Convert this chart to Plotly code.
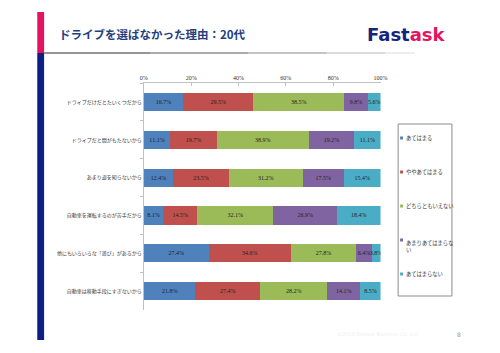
import plotly.graph_objects as go

# ---- data ----
categories = [
    "ドライブだけだとたいくつだから",
    "ドライブだと間がもたないから",
    "あまり道を知らないから",
    "自動車を運転するのが苦手だから",
    "他にもいろいろな「遊び」があるから",
    "自動車は移動手段にすぎないから",
]
series_names = ["あてはまる", "ややあてはまる", "どちらともいえない", "あまりあてはまらない", "あてはまらない"]
v_atehamaru = [16.7, 11.1, 12.4, 8.1, 27.4, 21.8]
v_yaya = [29.5, 19.7, 23.5, 14.5, 34.6, 27.4]
v_dochira = [38.5, 38.9, 31.2, 32.1, 27.8, 28.2]
v_amari = [9.8, 19.2, 17.5, 26.9, 6.4, 14.1]
v_nai = [5.6, 11.1, 15.4, 18.4, 3.8, 8.5]
series_values = [v_atehamaru, v_yaya, v_dochira, v_amari, v_nai]
tick_vals = [0, 20, 40, 60, 80, 100]
tick_text = ["0%", "20%", "40%", "60%", "80%", "100%"]

colors = ["#4F81BD", "#C0504D", "#9BBB59", "#8064A2", "#4BACC6"]

W, H = 500, 353
JP = "Noto Sans CJK JP"
SERIF = "Liberation Serif"


def px(x):
    return x / W


def py(y):
    return 1 - y / H


fig = go.Figure()
for name, vals, col in zip(series_names, series_values, colors):
    fig.add_trace(go.Bar(
        y=categories, x=vals, name=name, orientation="h",
        marker=dict(color=col, line=dict(width=0)),
        texttemplate="%{x:.1f}%", textposition="inside",
        insidetextanchor="middle", textangle=0,
        textfont=dict(family=SERIF, size=6, color="#222222"),
        showlegend=False, hoverinfo="skip",
    ))

shapes = []
# left accent bar
shapes.append(dict(type="rect", xref="paper", yref="paper",
                   x0=px(34), x1=px(41), y0=py(53), y1=py(12),
                   fillcolor="#E5135F", line=dict(width=0)))
shapes.append(dict(type="rect", xref="paper", yref="paper",
                   x0=px(34), x1=px(41), y0=py(340), y1=py(53),
                   fillcolor="#0D1F86", line=dict(width=0)))
# gradient gray line under title
segs = [(41, 150, 0.9), (150, 250, 0.7), (250, 330, 0.5), (330, 390, 0.3), (390, 420, 0.15)]
for a, b, op in segs:
    shapes.append(dict(type="line", xref="paper", yref="paper",
                       x0=px(a), x1=px(b), y0=py(53), y1=py(53),
                       line=dict(color="#8a8a8a", width=2), opacity=op))
# legend box
shapes.append(dict(type="rect", xref="paper", yref="paper",
                   x0=px(403), x1=px(458), y0=py(296), y1=py(124),
                   fillcolor="rgba(0,0,0,0)", line=dict(color="#8c8c8c", width=1)))

legend_y = [138, 172, 206, 240, 274]
annotations = []
for name, col, ly in zip(series_names, colors, legend_y):
    shapes.append(dict(type="rect", xref="paper", yref="paper",
                       x0=px(405), x1=px(408), y0=py(ly + 1.5), y1=py(ly - 1.5),
                       fillcolor=col, line=dict(width=0)))
    label = name
    yanchor = "middle"
    if name == "あまりあてはまらない":
        label = "あまりあてはまらな<br>い"
        yanchor = "top"
    annotations.append(dict(
        xref="paper", yref="paper", x=px(408.5),
        y=py(ly - 3.5) if yanchor == "top" else py(ly),
        xanchor="left", yanchor=yanchor, align="left", showarrow=False,
        text=label, font=dict(family=JP, size=5.3, color="#333333")))

# title
annotations.append(dict(xref="paper", yref="paper", x=px(54), y=py(34),
                        xanchor="left", yanchor="middle", showarrow=False,
                        text="<b>ドライブを選ばなかった理由：20代</b>",
                        font=dict(family=JP, size=11.5, color="#23407E")))
# logo
annotations.append(dict(xref="paper", yref="paper", x=px(412), y=py(34),
                        xanchor="center", yanchor="middle", showarrow=False,
                        text="<b><span style='color:#16247A'>Fast</span><span style='color:#E5135F'>ask</span></b>",
                        font=dict(family="DejaVu Sans", size=18)))
# footer
annotations.append(dict(xref="paper", yref="paper", x=px(383), y=py(334),
                        xanchor="center", yanchor="middle", showarrow=False,
                        text="©2013 Fastask Business Co.,Ltd.",
                        font=dict(family="DejaVu Sans", size=5, color="#f0f0f0")))
annotations.append(dict(xref="paper", yref="paper", x=px(465), y=py(334),
                        xanchor="center", yanchor="middle", showarrow=False,
                        text="8", font=dict(family="DejaVu Sans", size=6, color="#9a9a9a")))

fig.update_layout(
    width=W, height=H,
    margin=dict(l=0, r=0, t=0, b=0),
    paper_bgcolor="white", plot_bgcolor="white",
    barmode="stack", bargap=0.52,
    showlegend=False,
    uniformtext=dict(minsize=6, mode="show"),
    shapes=shapes, annotations=annotations,
    xaxis=dict(domain=[px(143), px(385)], range=[0, 100], side="top",
               tickvals=tick_vals, ticktext=tick_text,
               showline=True, linecolor="#c0c0c0", linewidth=1,
               ticks="inside", ticklen=3, tickcolor="#c0c0c0",
               showgrid=False, zeroline=False,
               tickfont=dict(family=SERIF, size=6, color="#333333")),
    yaxis=dict(domain=[py(310), py(83)], type="category", autorange="reversed",
               showline=True, linecolor="#c0c0c0", linewidth=1,
               ticks="outside", tickson="boundaries", ticklen=3, tickcolor="#c0c0c0",
               showgrid=False, zeroline=False,
               tickfont=dict(family=JP, size=5, color="#333333")),
)

fig.write_html("out.html")
